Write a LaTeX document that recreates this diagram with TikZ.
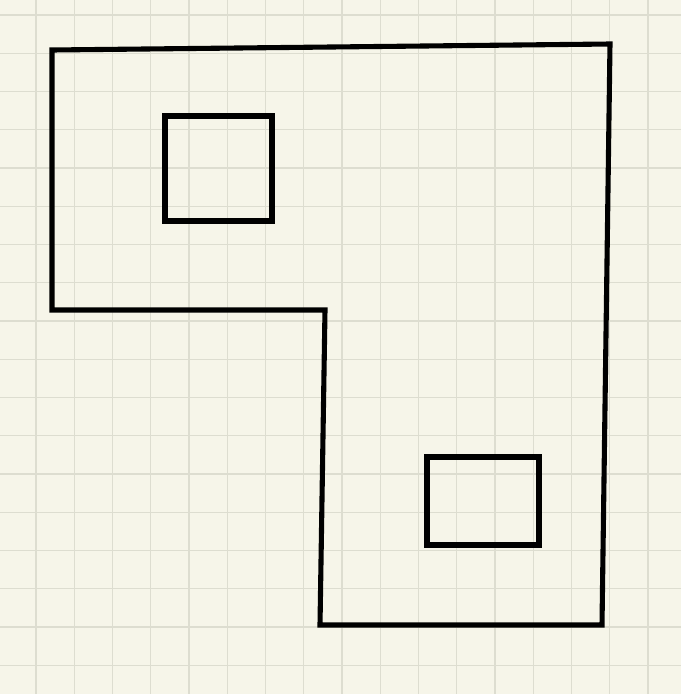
\documentclass[tikz,border=0pt]{standalone}
\usepackage{xcolor}

\definecolor{paper}{RGB}{246,245,233}
\definecolor{gridline}{RGB}{221,221,208}

\begin{document}
\begin{tikzpicture}[x=0.02cm,y=-0.02cm]
  \tikzstyle{wall}=[draw=black,line width=2.9pt,line join=miter]
  \tikzstyle{gridrule}=[draw=gridline,line width=0.75pt]
  \fill[paper] (0,0) rectangle (681,694);
  \useasboundingbox (0,0) rectangle (681,694);
  % grid
  \foreach \k in {0,...,16} \draw[gridrule] ({36+38.25*\k},0) -- ({36+38.25*\k},694);
  \foreach \k in {0,...,17} \draw[gridrule] (0,{15+38.25*\k}) -- (681,{15+38.25*\k});
  % outline of the room
  \coordinate (nw) at (52,50);
  \coordinate (ne) at (610,44);
  \coordinate (se) at (602,625);
  \coordinate (sw) at (320,625);
  \coordinate (notch) at (325,310);
  \coordinate (west) at (52,310);
  \draw[wall] (nw) -- (ne) -- (se) -- (sw) -- (notch) -- (west) -- cycle;
  % openings
  \draw[wall] (165,116) rectangle (272,221);
  \draw[wall] (427,457) rectangle (539,545);
\end{tikzpicture}
\end{document}
